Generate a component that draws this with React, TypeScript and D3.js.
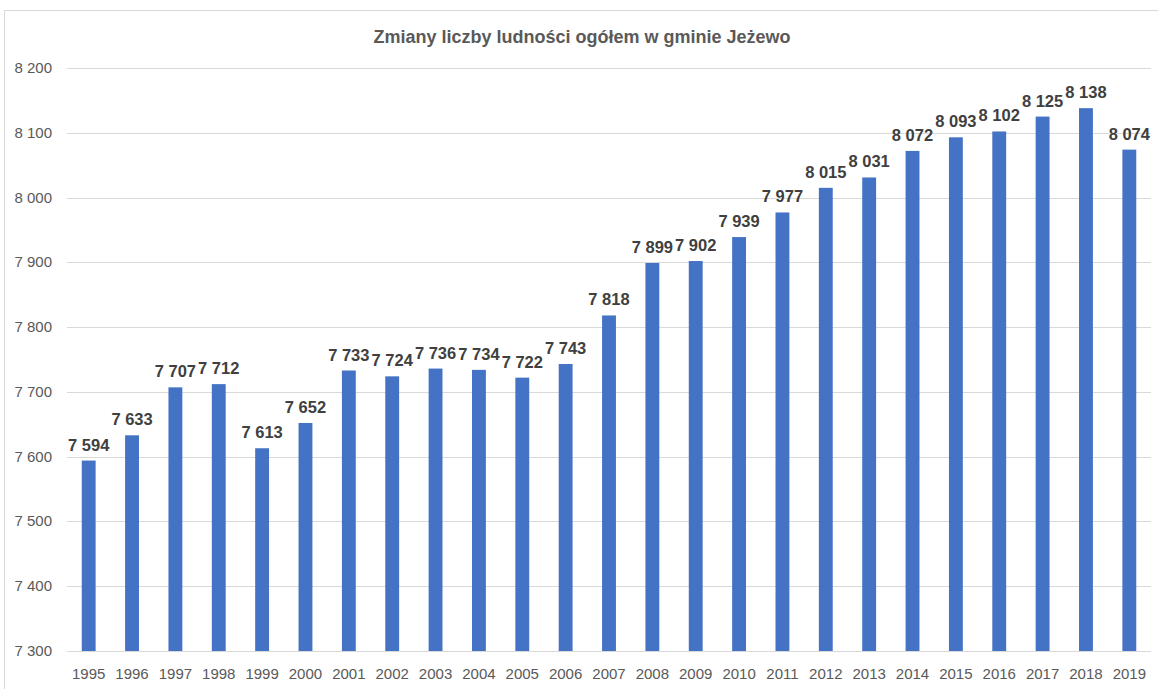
import React from "react";
import * as d3 from "d3";

const years = ["1995","1996","1997","1998","1999","2000","2001","2002","2003","2004","2005","2006","2007","2008","2009","2010","2011","2012","2013","2014","2015","2016","2017","2018","2019"];
const population = [7594,7633,7707,7712,7613,7652,7733,7724,7736,7734,7722,7743,7818,7899,7902,7939,7977,8015,8031,8072,8093,8102,8125,8138,8074];
const yTicks = [7300,7400,7500,7600,7700,7800,7900,8000,8100,8200];
const title = "Zmiany liczby ludności ogółem w gminie Jeżewo";

const W = 1158, H = 689;
const plot = { left: 67, right: 1151, top: 68, bottom: 651 };
const FONT = "'Liberation Sans', Arial, sans-serif";

const fmt = (v: number) => {
  const s = String(v);
  return s.length > 3 ? s.slice(0, s.length - 3) + " " + s.slice(-3) : s;
};

export default function App() {
  const x = d3.scaleBand<string>().domain(years).range([plot.left, plot.right]).paddingInner(0.68).paddingOuter(0.34);
  const y = d3.scaleLinear().domain([7300, 8200]).range([plot.bottom, plot.top]);
  return (
    <svg width={W} height={H} style={{ position: "absolute", left: 0, top: 0, background: "#fff" }}>
      <rect x={4.5} y={10.5} width={W + 10} height={H + 10} fill="#fff" stroke="#d9d9d9" strokeWidth={1} />
      <text x={582} y={43} textAnchor="middle" fontFamily={FONT} fontWeight="bold" fontSize={18} fill="#595959">{title}</text>
      {yTicks.map((t) => (
        <g key={t}>
          <line x1={plot.left} x2={plot.right} y1={Math.round(y(t)) + 0.5} y2={Math.round(y(t)) + 0.5} stroke="#d9d9d9" strokeWidth={1} />
          <text x={52} y={y(t) + 5} textAnchor="end" fontFamily={FONT} fontSize={15} fill="#595959">{fmt(t)}</text>
        </g>
      ))}
      {years.map((yr, i) => (
        <g key={yr}>
          <rect x={x(yr)} y={y(population[i])} width={x.bandwidth()} height={plot.bottom - y(population[i])} fill="#4472c4" />
          <text x={(x(yr) as number) + x.bandwidth() / 2} y={y(population[i]) - 10} textAnchor="middle" fontFamily={FONT} fontWeight="bold" fontSize={16.5} fill="#404040">{fmt(population[i])}</text>
          <text x={(x(yr) as number) + x.bandwidth() / 2} y={679} textAnchor="middle" fontFamily={FONT} fontSize={15} fill="#595959">{yr}</text>
        </g>
      ))}
    </svg>
  );
}
